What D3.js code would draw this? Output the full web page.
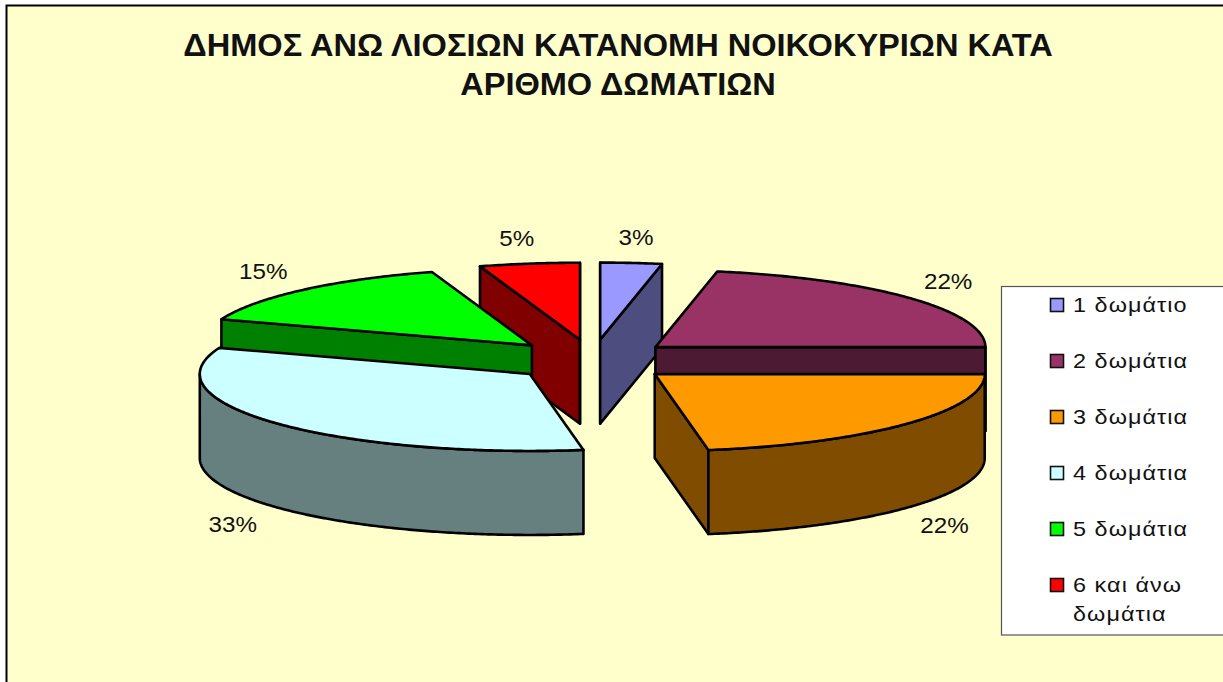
<!DOCTYPE html>
<html><head><meta charset="utf-8">
<style>html,body{margin:0;padding:0;background:#fff}svg{display:block}text{font-family:"Liberation Sans",Arial,sans-serif;fill:#111}</style>
<script src="https://cdn.jsdelivr.net/npm/d3@7"></script></head>
<body><svg id="c" width="1223" height="682"></svg>
<script>
const titleLines = ["ΔΗΜΟΣ ΑΝΩ ΛΙΟΣΙΩΝ ΚΑΤΑΝΟΜΗ ΝΟΙΚΟΚΥΡΙΩΝ ΚΑΤΑ", "ΑΡΙΘΜΟ ΔΩΜΑΤΙΩΝ"];
const categories = ["1 δωμάτιο", "2 δωμάτια", "3 δωμάτια", "4 δωμάτια", "5 δωμάτια", "6 και άνω δωμάτια"];
const legendLines = [["1 δωμάτιο"], ["2 δωμάτια"], ["3 δωμάτια"], ["4 δωμάτια"], ["5 δωμάτια"], ["6 και άνω", "δωμάτια"]];
const values = [3.0, 22.0, 22.4, 33.1, 14.6, 4.9];
const colors = ["#9999FF", "#993366", "#FF9900", "#CCFFFF", "#00FF00", "#FF0000"];
const paintOrder = [0, 5, 4, 1, 2, 3];

const W = 1223, H = 682;
const svg = d3.select("#c");
const cx = 592.5, cy = 360.5, rx = 330, ry = 77, depth = 84, explodeX = 81.6, explodeY = 21, labelRx = 380, labelRy = 103;
const slice5Nudge = -4, leftLabelShift = -5;
const TAU = Math.PI * 2;

svg.append("rect").attr("x", 6.5).attr("y", 5.5).attr("width", W + 20).attr("height", H + 20)
  .attr("fill", "#FFFFCC").attr("stroke", "#000").attr("stroke-width", 2);

const stretched = (sel, x, y, k, t) => sel.append("text").attr("transform", `translate(${x},${y}) scale(${k},1)`).text(t);

const title = svg.append("g").attr("font-weight", "bold").attr("font-size", 31).attr("text-anchor", "middle");
titleLines.forEach((t, i) => stretched(title, 618, 55.5 + i * 39, 1.05, t));

const arcs = d3.pie().sort(null).value(d => d).startAngle(0).endAngle(TAU)(values);
const line = d3.line().curve(d3.curveLinear);
const pt = (a, t, dz = 0) => [a.ox + rx * Math.sin(t), a.oy - ry * Math.cos(t) + dz];

arcs.forEach((a, i) => {
  a.mid = (a.startAngle + a.endAngle) / 2;
  a.ox = cx + explodeX * Math.sin(a.mid) + (i === 4 ? slice5Nudge : 0);
  a.oy = cy - explodeY * Math.cos(a.mid);
});
const angles = (s, e) => { const n = Math.max(2, Math.ceil((e - s) / 0.01)); return d3.range(n + 1).map(i => s + (e - s) * i / n); };
const darker = c => { const k = d3.rgb(c); return d3.rgb(k.r * .5, k.g * .5, k.b * .5).formatHex(); };

const g = svg.append("g").attr("stroke", "#000").attr("stroke-width", 2.6).attr("stroke-linejoin", "round");
paintOrder.forEach(i => {
  const a = arcs[i], side = darker(colors[i]), s = a.startAngle, e = a.endAngle;
  const face = (pts) => g.append("path").attr("d", line(pts) + "Z").attr("fill", side);
  const radial = t => face([[a.ox, a.oy], pt(a, t), pt(a, t, depth), [a.ox, a.oy + depth]]);
  if (Math.sin(s) <= 0) radial(s);
  if (Math.sin(e) > 0 || (Math.sin(e) > -1e-9 && i === 5)) radial(e);
  const f0 = Math.max(s, Math.PI / 2), f1 = Math.min(e, 3 * Math.PI / 2);
  if (f1 > f0) {
    const ts = angles(f0, f1);
    face(ts.map(t => pt(a, t)).concat(ts.slice().reverse().map(t => pt(a, t, depth))));
  }
  g.append("path").attr("d", line([[a.ox, a.oy]].concat(angles(s, e).map(t => pt(a, t)))) + "Z").attr("fill", colors[i]);
});

const labels = svg.append("g").attr("font-size", 22).attr("text-anchor", "middle");
arcs.forEach(a => {
  const front = Math.cos(a.mid) < 0;
  stretched(labels,
    a.ox + labelRx * Math.sin(a.mid) + (Math.sin(a.mid) < 0 ? leftLabelShift : 0),
    a.oy - labelRy * Math.cos(a.mid) + (front ? depth : 0) + 8,
    1.1, Math.round(a.value) + "%");
});

svg.append("rect").attr("x", 1001.5).attr("y", 286.5).attr("width", 240).attr("height", 348.5)
  .attr("fill", "#fff").attr("stroke", "#555").attr("stroke-width", 1.2);
const ly = d3.scalePoint().domain(categories).range([305, 585]);
const leg = svg.append("g").attr("font-size", 20).attr("letter-spacing", 0.9);
categories.forEach((c, i) => {
  const y = ly(c);
  leg.append("rect").attr("x", 1050.5).attr("y", y - 6.5).attr("width", 13).attr("height", 13)
    .attr("fill", colors[i]).attr("stroke", "#111").attr("stroke-width", 1.6);
  legendLines[i].forEach((t, j) => stretched(leg, 1073, y + 7 + j * 29, 1.17, t));
});
</script></body></html>
